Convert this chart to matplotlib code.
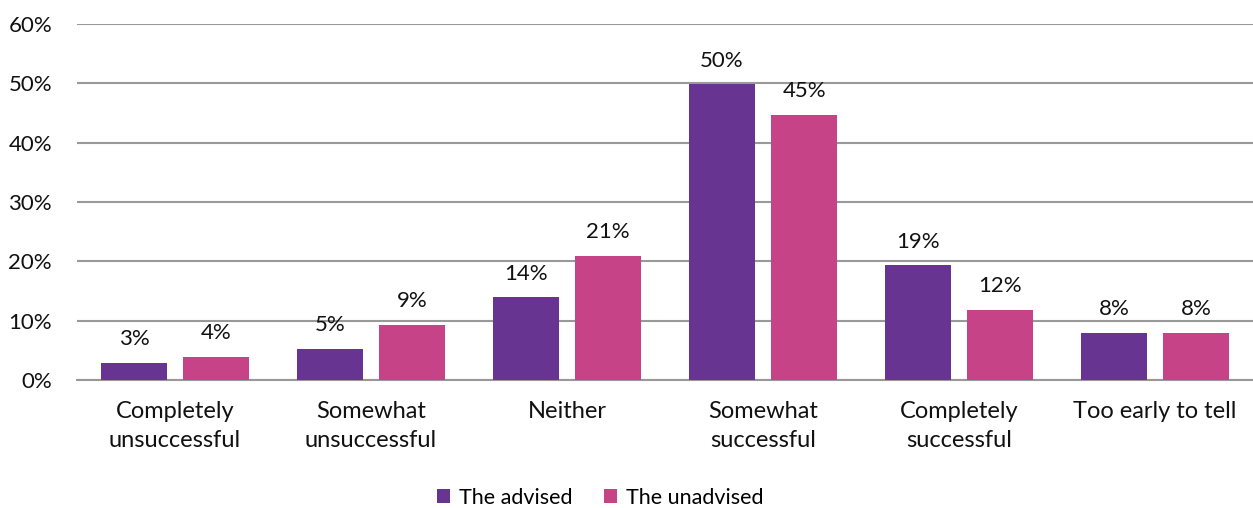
import matplotlib as mpl
mpl.use('Agg')
import matplotlib.pyplot as plt
import numpy as np

plt.rcParams['font.family'] = ['Lato', 'DejaVu Sans']

#survey categories and share of respondents (%)
categories = ['Completely\nunsuccessful', 'Somewhat\nunsuccessful', 'Neither',
              'Somewhat\nsuccessful', 'Completely\nsuccessful', 'Too early to tell']
advised = [2.9, 5.3, 13.9, 49.8, 19.3, 7.9]
unadvised = [3.9, 9.3, 20.9, 44.6, 11.8, 8.0]
series_names = ['The advised', 'The unadvised']

purple = '#673491'
pink = '#C64388'

fig = plt.figure(figsize=(12.53, 5.08), dpi=100)
ax = fig.add_axes([0.0615, 0.252, 0.9385, 0.701])

x = np.arange(len(categories))
w = 0.334
off = 0.21
b1 = ax.bar(x - off, advised, w, color=purple, label=series_names[0], zorder=3)
b2 = ax.bar(x + off, unadvised, w, color=pink, label=series_names[1], zorder=3)

#value labels above each bar
for bars, vals in [(b1, advised), (b2, unadvised)]:
	for rect, v in zip(bars, vals):
		ax.annotate('{:.0f}%'.format(v), (rect.get_x() + rect.get_width()/2, v),
			xytext=(0, 10), textcoords='offset points', ha='center', va='bottom',
			fontsize=16, color='#111111')

ax.set_xlim(-0.5, 5.5)
ax.set_ylim(0, 60)
ax.set_yticks(range(0, 61, 10))
ax.set_yticklabels(['{}%'.format(t) for t in range(0, 61, 10)])
ax.set_xticks(x)
ax.set_xticklabels(categories, linespacing=1.5)

ax.yaxis.grid(True, color='#999999', linewidth=1.5, zorder=0)
for side in ['top', 'right', 'left']:
	ax.spines[side].set_visible(False)
ax.spines['bottom'].set_color('#999999')
ax.spines['bottom'].set_linewidth(1.5)
ax.tick_params(axis='y', length=0, pad=18, labelsize=16, labelcolor='#111111')
ax.tick_params(axis='x', length=0, pad=15, labelsize=17, labelcolor='#111111')

fig.legend(handles=[b1, b2], loc='center', bbox_to_anchor=(0.479, 0.02), ncol=2, frameon=False,
	fontsize=15.5, handlelength=0.6, handleheight=0.6, handletextpad=0.4, columnspacing=1.5)

fig.savefig('out.png', dpi=100)
